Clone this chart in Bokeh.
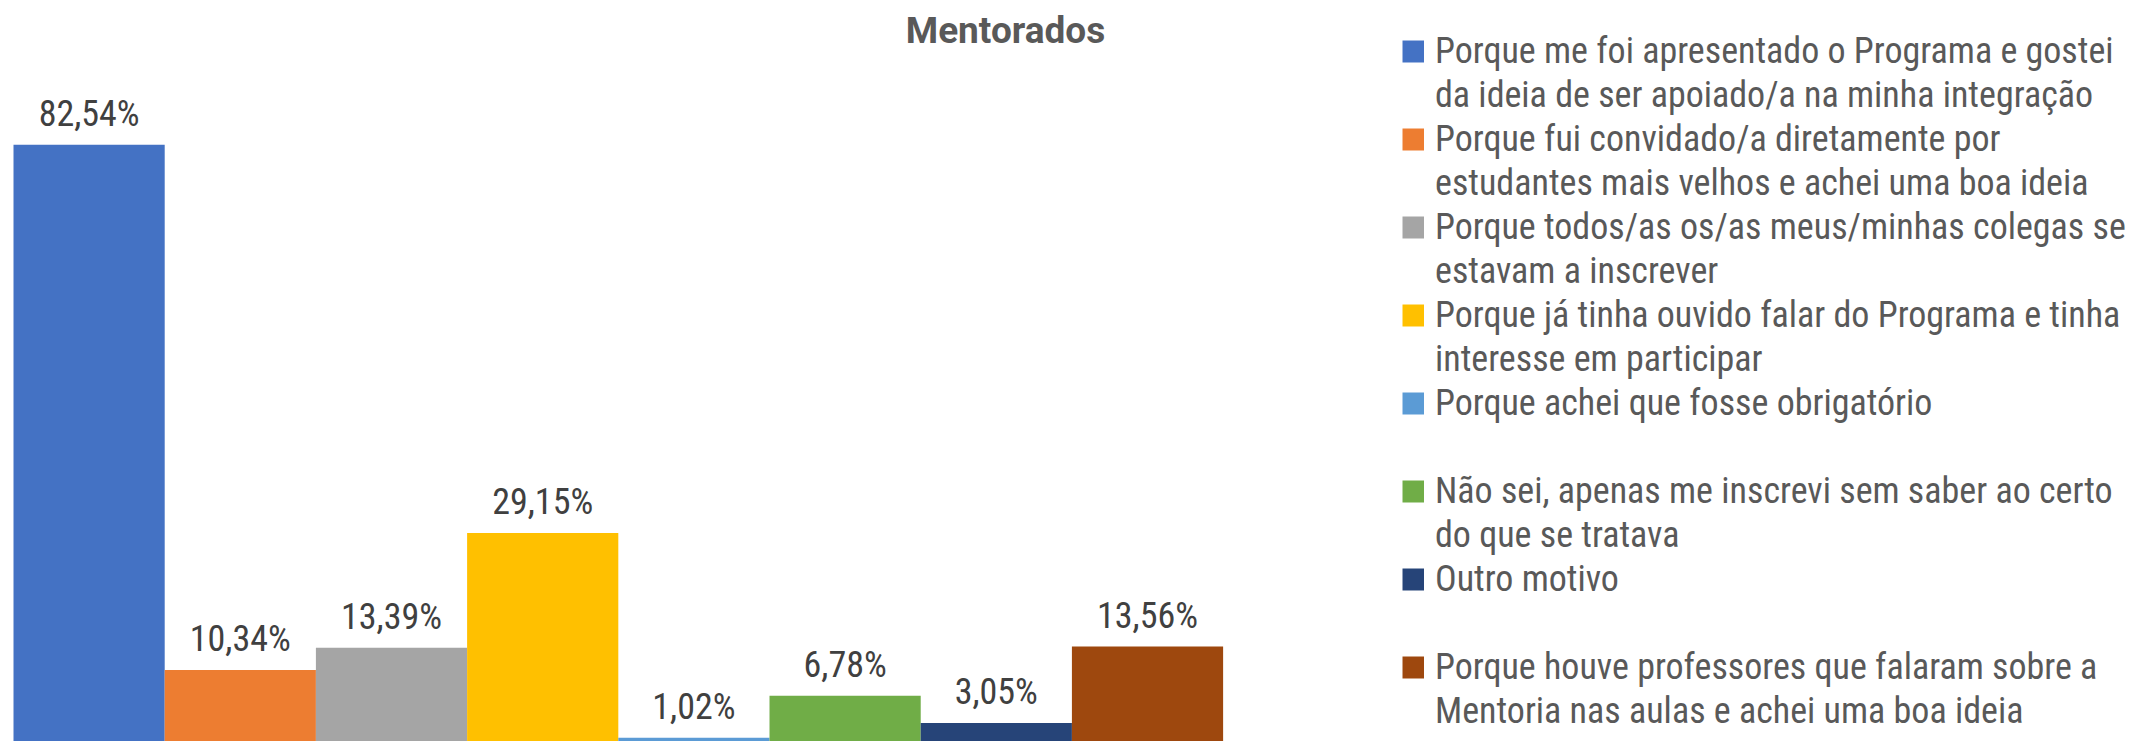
from bokeh.plotting import figure
from bokeh.models import Range1d, ColumnDataSource, Legend, LegendItem, Label
from bokeh.core.properties import value
from bokeh.embed import file_html
from bokeh.resources import INLINE

# ---- data ----
categories = [
    "Porque me foi apresentado o Programa e gostei|da ideia de ser apoiado/a na minha integração",
    "Porque fui convidado/a diretamente por|estudantes mais velhos e achei uma boa ideia",
    "Porque todos/as os/as meus/minhas colegas se|estavam a inscrever",
    "Porque já tinha ouvido falar do Programa e tinha|interesse em participar",
    "Porque achei que fosse obrigatório|",
    "Não sei, apenas me inscrevi sem saber ao certo|do que se tratava",
    "Outro motivo|",
    "Porque houve professores que falaram sobre a|Mentoria nas aulas e achei uma boa ideia",
]
values = [82.54, 10.34, 13.39, 29.15, 1.02, 6.78, 3.05, 13.56]
colors = ["#4472C4", "#ED7D31", "#A5A5A5", "#FFC000", "#5B9BD5", "#70AD47", "#264478", "#9E480E"]
title_text = "Mentorados"

FONT = "Roboto Condensed"
FONT_TIT = "Roboto"

labels = [f"{v:.2f}".replace(".", ",") + "%" for v in values]
xs = list(range(len(values)))
src = ColumnDataSource(dict(x=xs, top=values, color=colors, label=labels))

p = figure(width=2146, height=741, output_backend="svg", toolbar_location=None,
           x_range=Range1d(-0.586, 13.607), y_range=Range1d(0.50, 102.38),
           min_border=0, min_border_left=0, min_border_right=0,
           min_border_top=0, min_border_bottom=0)
p.axis.visible = False
p.grid.visible = False
p.outline_line_color = None
p.background_fill_color = "white"
p.border_fill_color = "white"

p.vbar(x="x", top="top", bottom=0, width=1.0, color="color", line_color=None, source=src)
p.text(x="x", y="top", text="label", source=src, text_align="center",
       text_baseline="alphabetic", y_offset=-31, text_color="#404040",
       text_font=value(FONT), text_font_size="36px")

# legend proxies (a thick line draws a square swatch)
nan = float("nan")
items = []
for cat, c in zip(categories, colors):
    l1, l2 = cat.split("|")
    r = p.line(x=[nan], y=[nan], line_color=c, line_width=22)
    items.append(LegendItem(label=l1, renderers=[r]))
    r2 = p.line(x=[nan], y=[nan], line_alpha=0, line_width=1)
    items.append(LegendItem(label=l2 if l2 else " ", renderers=[r2]))

legend = Legend(items=items, location=(1402, 8), orientation="vertical",
                glyph_width=22, glyph_height=44, label_height=44, spacing=0,
                label_standoff=11, padding=0, margin=0,
                border_line_color=None, background_fill_alpha=0,
                label_text_font=FONT, label_text_font_size="36px",
                label_text_color="#595959")
p.add_layout(legend, "center")

title = Label(x=1005, y=711, x_units="screen", y_units="screen", text=title_text,
              text_align="center", text_baseline="alphabetic",
              text_font=FONT_TIT, text_font_size="37px", text_font_style="bold",
              text_color="#595959")
p.add_layout(title)

open("out.html", "w").write(file_html(p, INLINE))
